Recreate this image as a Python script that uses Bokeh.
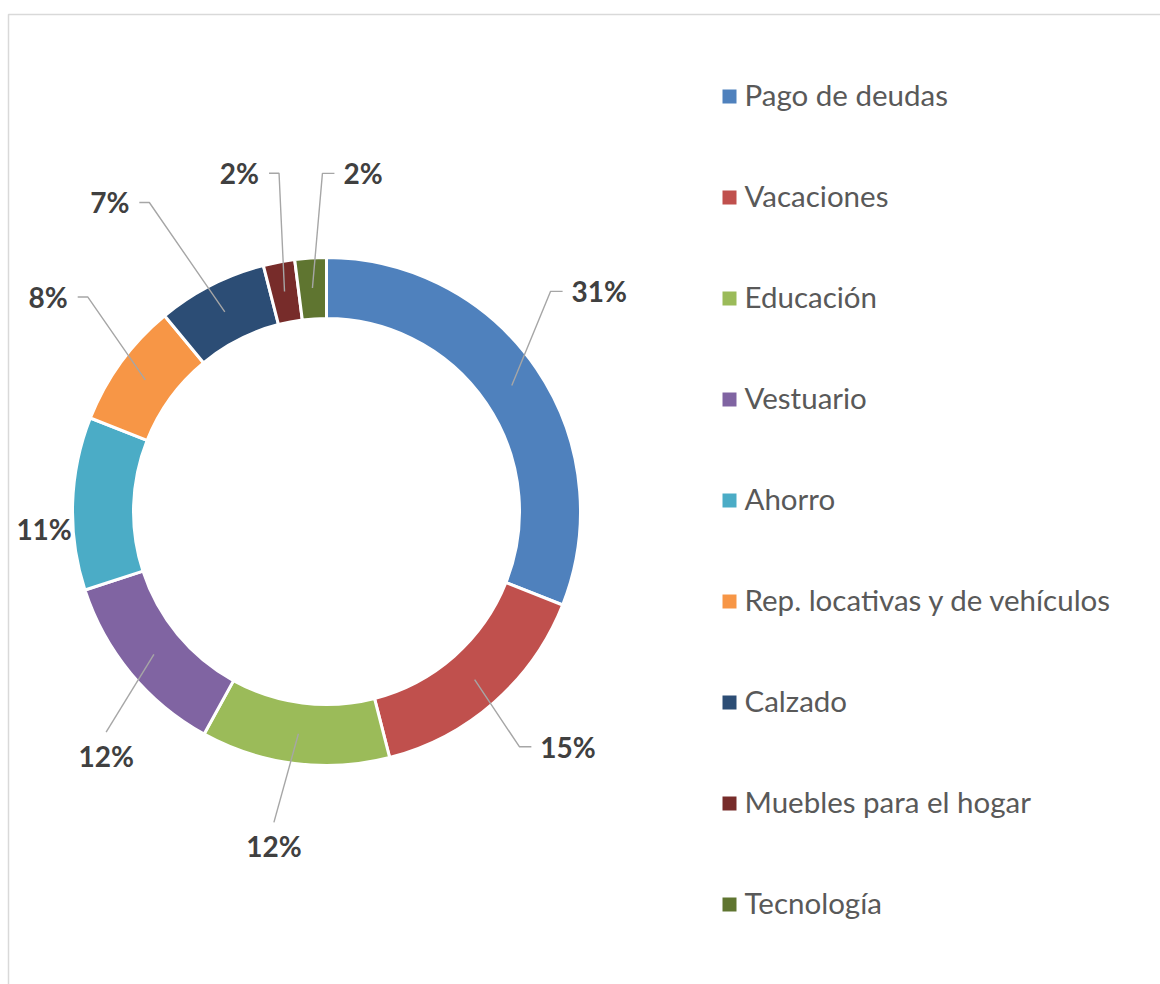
import numpy as np
from bokeh.plotting import figure
from bokeh.models import Range1d
from bokeh.core.properties import value
from bokeh.embed import file_html
from bokeh.resources import INLINE

# ---------------- data ----------------
categories = ["Pago de deudas", "Vacaciones", "Educación", "Vestuario", "Ahorro",
              "Rep. locativas y de vehículos", "Calzado", "Muebles para el hogar", "Tecnología"]
values = [31, 15, 12, 12, 11, 8, 7, 2, 2]
colors = ["#4F81BD", "#C0504D", "#9BBB59", "#8064A2", "#4BACC6",
          "#F79646", "#2C4D75", "#772C2A", "#5F7530"]

# ---------------- layout ----------------
W, H = 1160, 984
CX, CY = 326, H - 511
R_IN, R_OUT = 193, 254
R_LEAD = 224
label_nudge = [4.7, 4.1, -1.7, 8.5, 5.5, -1.6, 8.0, 3.5, -9.6]      # degrees
label_radius = [349, 337, 340, 330, 283, 350, 376, 348, 339]
leader_side = ["l", "l", "t", "t", "", "r", "r", "r", "l"]
LEG_X, LEG_Y0, LEG_STEP = 729, 96, 101

p = figure(width=W, height=H, x_range=Range1d(0, W), y_range=Range1d(0, H),
           output_backend="svg", toolbar_location=None, min_border=0)
p.axis.visible = False
p.grid.visible = False
p.outline_line_color = None
p.background_fill_color = "white"
p.border_fill_color = "white"

# chart border
p.quad(left=8, right=W + 20, top=H - 14, bottom=-20, fill_color=None,
       line_color="#D9D9D9", line_width=1.5)

total = float(sum(values))
cum = np.concatenate([[0], np.cumsum(values)])
start = 90 - 360 * cum[:-1] / total
end = 90 - 360 * cum[1:] / total
mid = (start + end) / 2

p.annular_wedge(x=CX, y=CY, inner_radius=R_IN, outer_radius=R_OUT,
                start_angle=np.deg2rad(start), end_angle=np.deg2rad(end),
                direction="clock", fill_color=colors, line_color="white", line_width=3)

# labels & leader lines
groups = {"left": ([], [], []), "right": ([], [], []), "center": ([], [], [])}
lxs, lys = [], []
for v, m, nd, r, side in zip(values, mid, label_nudge, label_radius, leader_side):
    th = np.deg2rad(m + nd)
    xc = CX + r * np.cos(th)
    yc = CY + r * np.sin(th)
    ex = CX + R_LEAD * np.cos(np.deg2rad(m))
    ey = CY + R_LEAD * np.sin(np.deg2rad(m))
    txt = f"{v}%"
    w = 16 * len(str(v)) + 21
    left, right = xc - w / 2, xc + w / 2
    if side == "l":
        groups["left"][0].append(left); groups["left"][1].append(yc + 1); groups["left"][2].append(txt)
        lxs.append([left - 9, left - 21, ex]); lys.append([yc + 1, yc + 1, ey])
    elif side == "r":
        groups["right"][0].append(right); groups["right"][1].append(yc + 1); groups["right"][2].append(txt)
        lxs.append([right + 10, right + 20, ex]); lys.append([yc + 1, yc + 1, ey])
    else:
        groups["center"][0].append(xc); groups["center"][1].append(yc + 1); groups["center"][2].append(txt)
        if side == "t":
            lxs.append([xc, ex]); lys.append([yc + 25, ey])

p.multi_line(xs=lxs, ys=lys, line_color="#A6A6A6", line_width=1.4)

for align, (gx, gy, gt) in groups.items():
    p.text(x=gx, y=gy, text=gt, text_align=align, text_baseline="middle",
           text_font=value("Lato"), text_font_style="bold", text_font_size="28px",
           text_color="#404040")

# legend
leg_y = [H - (LEG_Y0 + LEG_STEP * i) for i in range(len(categories))]
p.scatter(x=[LEG_X] * len(categories), y=leg_y, marker="square", size=14,
          fill_color=colors, line_color=None)
p.text(x=[LEG_X + 15] * len(categories), y=[yy + 2 for yy in leg_y], text=categories,
       text_align="left", text_baseline="middle",
       text_font=value("Lato"), text_font_size="29.5px", text_color="#595959")

open("out.html", "w").write(file_html(p, INLINE))
